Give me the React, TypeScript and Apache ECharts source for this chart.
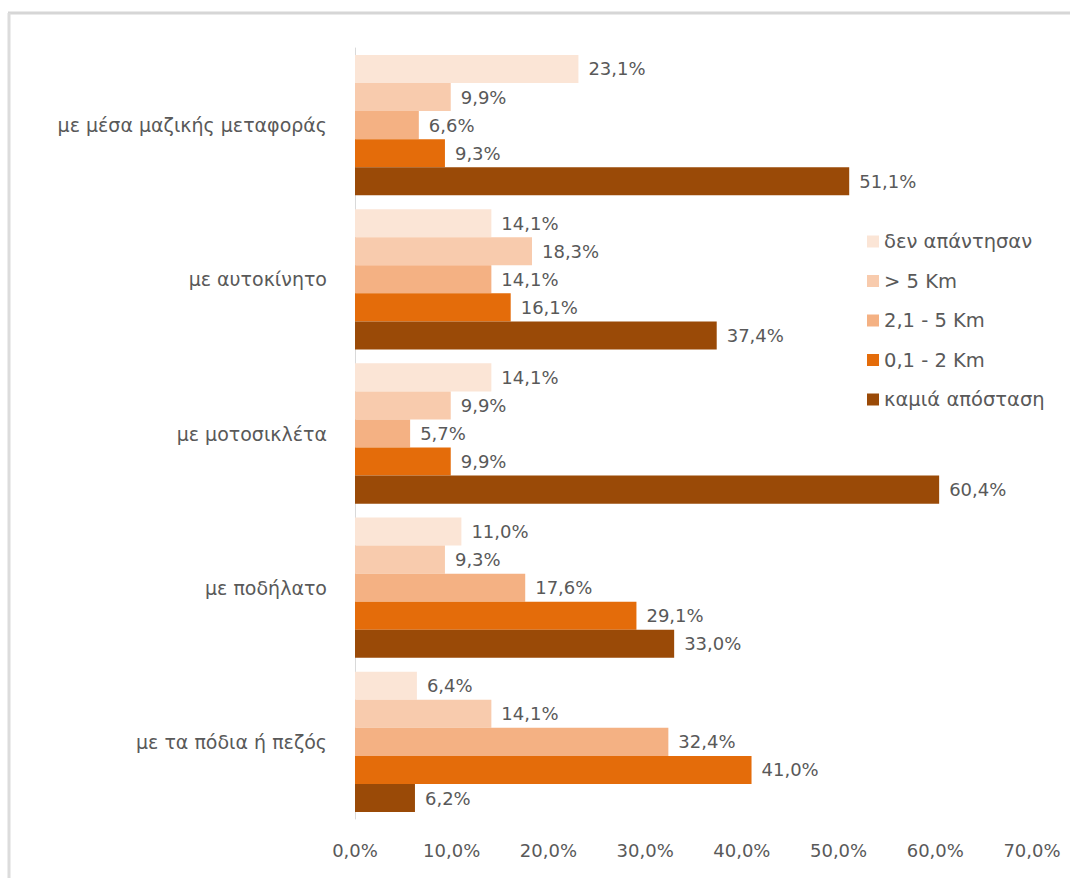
import React, { useEffect, useRef } from "react";
import * as echarts from "echarts";

const categories = [
  "με μέσα μαζικής μεταφοράς",
  "με αυτοκίνητο",
  "με μοτοσικλέτα",
  "με ποδήλατο",
  "με τα πόδια ή πεζός",
];
const seriesNames = ["δεν απάντησαν", "> 5 Km", "2,1 - 5 Km", "0,1 - 2 Km", "καμιά απόσταση"];
const noAnswer = [23.1, 14.1, 14.1, 11.0, 6.4];
const over5 = [9.9, 18.3, 9.9, 9.3, 14.1];
const from2to5 = [6.6, 14.1, 5.7, 17.6, 32.4];
const from0to2 = [9.3, 16.1, 9.9, 29.1, 41.0];
const noDistance = [51.1, 37.4, 60.4, 33.0, 6.2];
const seriesValues = [noAnswer, over5, from2to5, from0to2, noDistance];
const colors = ["#FBE5D6", "#F8CBAD", "#F4B183", "#E46C0A", "#9A4A07"];

const fmt = (v: number) => v.toFixed(1).replace(".", ",") + "%";
const FONT = "DejaVu Sans";
const TEXT = "#595959";
const FS = 18;

export default function App() {
  const ref = useRef<HTMLDivElement>(null);
  useEffect(() => {
    const chart = echarts.init(ref.current!, null, { renderer: "svg" });
    chart.setOption({
      animation: false,
      backgroundColor: "#ffffff",
      textStyle: { fontFamily: FONT },
      grid: { left: 355, right: 38, top: 48, bottom: 59, containLabel: false },
      legend: {
        orient: "vertical",
        left: 862,
        top: 226,
        itemWidth: 12,
        itemHeight: 12,
        itemGap: 18.5,
        icon: "rect",
        textStyle: { color: TEXT, fontSize: 19.5, lineHeight: 21, fontFamily: FONT },
        data: seriesNames,
      },
      xAxis: {
        type: "value",
        min: 0,
        max: 70,
        interval: 10,
        axisLine: { show: false },
        axisTick: { show: false },
        splitLine: { show: false },
        axisLabel: { formatter: (v: number) => fmt(v), color: TEXT, fontSize: FS, margin: 22, fontFamily: FONT },
      },
      yAxis: {
        type: "category",
        inverse: true,
        data: categories,
        axisLine: { show: true, lineStyle: { color: "#D9D9D9", width: 1 } },
        axisTick: { show: false },
        axisLabel: { color: TEXT, fontSize: 19, margin: 28, fontFamily: FONT },
      },
      series: seriesNames.map((name, i) => ({
        name,
        type: "bar",
        data: seriesValues[i],
        barGap: "0%",
        barCategoryGap: "9%",
        itemStyle: { color: colors[i] },
        label: {
          show: true,
          position: "right",
          distance: 10,
          formatter: (p: any) => fmt(p.value),
          color: TEXT,
          fontSize: FS,
          fontFamily: FONT,
        },
      })),
      graphic: [
        { type: "line", shape: { x1: 8, y1: 13, x2: 1070, y2: 13 }, style: { stroke: "#D6D6D6", lineWidth: 3 } },
        { type: "line", shape: { x1: 9, y1: 13, x2: 9, y2: 878 }, style: { stroke: "#DCDCDC", lineWidth: 3 } },
      ],
    });
    return () => chart.dispose();
  }, []);
  return <div ref={ref} style={{ position: "fixed", left: 0, top: 0, width: 1070, height: 878 }} />;
}
